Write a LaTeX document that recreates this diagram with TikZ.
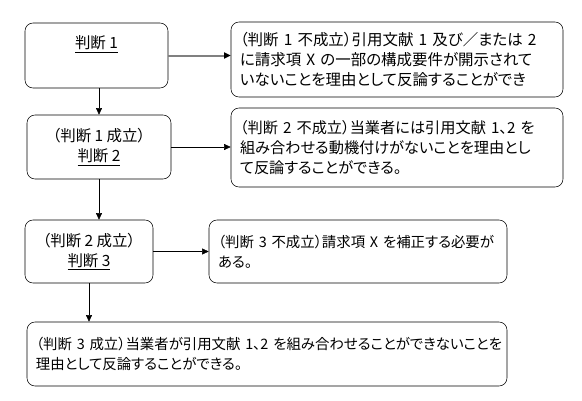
\documentclass[tikz,border=0pt]{standalone}
\usepackage{fontspec}
\setmainfont[RawFeature=+palt]{Noto Sans CJK JP}
\usetikzlibrary{arrows.meta,positioning}

\begin{document}
\begin{tikzpicture}[x=0.75pt,y=-0.75pt,
  font=\fontsize{11.6pt}{15pt}\selectfont,
  small/.style={font=\fontsize{10.8pt}{15pt}\selectfont},
  judge/.style={draw, rounded corners=6pt, align=center, inner sep=0pt},
  result/.style={draw, rounded corners=6pt, align=left, inner sep=0pt, text width=#1},
  flow/.style={-{Triangle[length=5pt,width=4.5pt]}},
]
\useasboundingbox (0,0) rectangle (582,400);

\node[judge, minimum width=143*0.75pt, minimum height=65*0.75pt] (judge1) at (96.5,55.5) {\underline{判断~1}\\ \strut};
\node[judge, minimum width=144*0.75pt, minimum height=64*0.75pt] (judge2) at (99,147) {（判断~1~成立）\\\underline{判断~2}};
\node[judge, minimum width=128*0.75pt, minimum height=63*0.75pt] (judge3) at (89,251.5) {（判断~2~成立）\\\underline{判断~3}};

\node[result=314*0.75pt, minimum width=332*0.75pt, minimum height=75*0.75pt] (fail1) at (397,59.5)
  {（判断~1~不成立）引用文献~1~及び／または~2\\に請求項~X~の一部の構成要件が開示されて\\いないことを理由として反論することができ};
\node[result=314*0.75pt, minimum width=332*0.75pt, minimum height=79*0.75pt, font=\fontsize{11.4pt}{15pt}\selectfont] (fail2) at (397,147.5)
  {（判断~2~不成立）当業者には引用文献~1、2~を\\組み合わせる動機付けがないことを理由とし\\て反論することができる。};
\node[result=280*0.75pt, minimum width=298*0.75pt, minimum height=63*0.75pt, small] (fail3) at (358,251.5)
  {（判断~3~不成立）請求項~X~を補正する必要が\\ある。};
\node[result=462*0.75pt, minimum width=480*0.75pt, minimum height=64*0.75pt, small] (pass3) at (267,354)
  {（判断~3~成立）当業者が引用文献~1、2~を組み合わせることができないことを\\理由として反論することができる。};

% downward chain
\draw[flow] (judge1.south -| judge2.north) -- (judge2.north);
\draw[flow] (judge2.south) -- (judge2.south |- judge3.north);
\draw[flow] (judge3.south) -- (judge3.south |- pass3.north);

% side branches
\draw[-{Triangle[length=5pt,width=4.5pt,color=black]}, gray, line width=1.5pt] (judge1.east) -- (judge1.east -| fail1.west);
\draw[flow] (judge2.east) -- (judge2.east -| fail2.west);
\draw[flow] (judge3.east) -- (judge3.east -| fail3.west);

\end{tikzpicture}
\end{document}
